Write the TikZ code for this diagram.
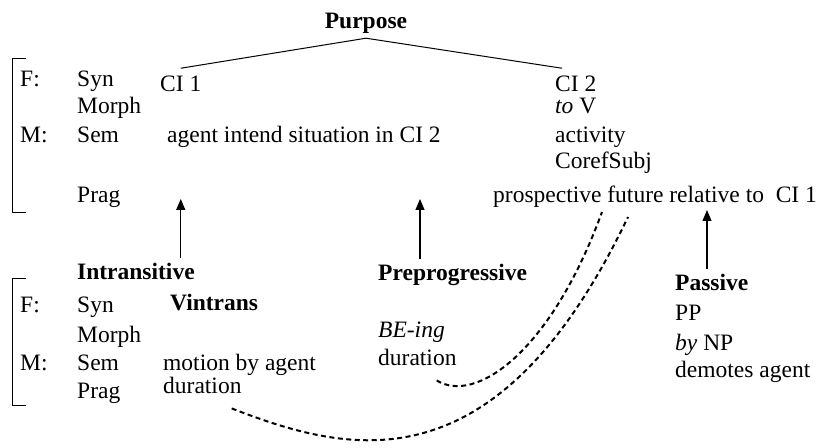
\documentclass[tikz,border=0pt]{standalone}
\usepackage{fontspec}
\setmainfont{Liberation Serif}
\usetikzlibrary{arrows.meta}

\begin{document}
\begin{tikzpicture}[x=1bp,y=-1bp,
  every node/.style={inner sep=0pt,anchor=base west,font=\fontsize{23.5bp}{28bp}\selectfont},
  head node/.style={font=\fontsize{23.5bp}{28bp}\selectfont\bfseries},
  up arrow/.style={-{Triangle[width=9bp,length=11bp]},line width=1.1bp},
  link/.style={dash pattern=on 5bp off 3.5bp,line width=2bp},
  frame/.style={line width=1bp}]

  \useasboundingbox (0,0) rectangle (817,448);

  % Purpose construction
  \node[head node,anchor=base] (purpose) at (366,29) {Purpose};

  \node (f1)    at (20,87)  {F:};
  \node (syn1)  at (77,87)  {Syn};
  \node (mor1)  at (77,114) {Morph};
  \node (m1)    at (20,143) {M:};
  \node (sem1)  at (77,143) {Sem};
  \node (prag1) at (77,203) {Prag};

  \node (ci1)    at (160,92)  {CI 1};
  \node (intend) at (167,143) {agent intend situation in CI 2};
  \node (ci2)    at (555,92)  {CI 2};
  \node (tov)    at (555,114) {\textit{to} V};
  \node (act)    at (555,143) {activity};
  \node (coref)  at (555,169) {CorefSubj};
  \node (prosp)  at (493,203) {prospective future relative to\ \ CI 1};

  \draw[frame] ([yshift=-4bp]purpose.south) -- ([yshift=8bp]ci1.north);
  \draw[frame] ([yshift=-4bp]purpose.south) -- ([xshift=7bp,yshift=8bp]ci2.north west);
  \draw[frame] (26,59) -| (12,213) -- (26,213);

  % Intransitive construction
  \node[head node] (intrans) at (77,280) {Intransitive};

  \node (f2)    at (20,313) {F:};
  \node (syn2)  at (77,313) {Syn};
  \node (mor2)  at (77,343) {Morph};
  \node (m2)    at (20,371) {M:};
  \node (sem2)  at (77,371) {Sem};
  \node (prag2) at (77,398) {Prag};

  \node[head node] (vintr) at (170,311) {Vintrans};
  \node (motion) at (163,371) {motion by agent};
  \node (dur1)   at (163,393) {duration};

  \draw[frame] (26,279) -| (12,405) -- (26,405);

  % Preprogressive construction
  \node[head node] (preprog) at (378,281) {Preprogressive};
  \node (being) at (378,338) {\textit{BE-ing}};
  \node (dur2)  at (378,366) {duration};

  % Passive construction
  \node[head node] (passive) at (675,291) {Passive};
  \node (pp)     at (675,321) {PP};
  \node (bynp)   at (675,351) {\textit{by} NP};
  \node (demote) at (675,378) {demotes agent};

  % inheritance arrows
  \coordinate (pretip) at (420,199);
  \coordinate (pastip) at (707,210);
  \draw[up arrow] ([yshift=5bp]intrans.north -| ci1) -- (ci1 |- pretip);
  \draw[up arrow] ([yshift=5bp]preprog.north -| pretip) -- (pretip);
  \draw[up arrow] ([yshift=5bp]passive.north -| pastip) -- (pastip);

  % duration links
  \coordinate (endA) at (602,212);
  \coordinate (endB) at (628,217);
  \draw[link] ([shift={(-20,14)}]dur2.south east)
    .. controls (474,404) and (549.5,355.5) .. (endA);
  \draw[link] ([shift={(-10,15)}]dur1.south east)
    .. controls (347,453) and (496,493) .. (endB);
\end{tikzpicture}
\end{document}
